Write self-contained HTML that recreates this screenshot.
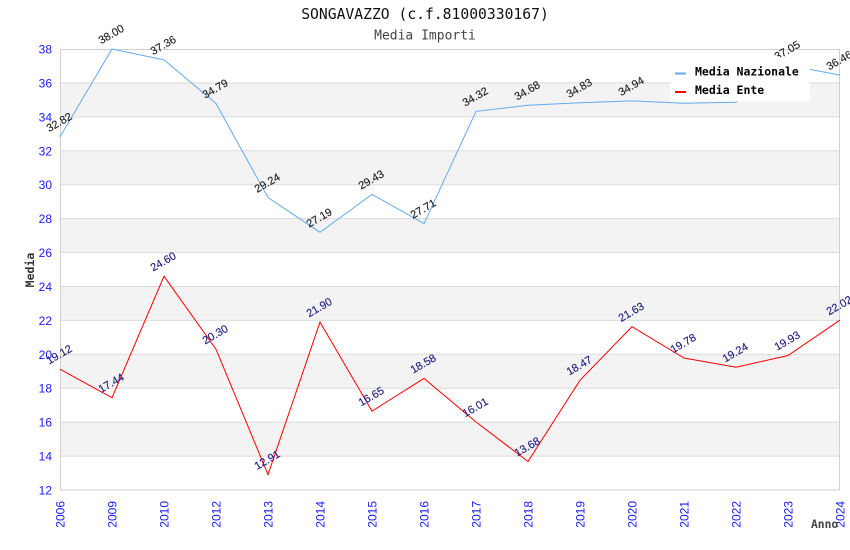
<!DOCTYPE html>
<html><head><meta charset="utf-8"><style>
html,body{margin:0;padding:0;background:#fff;}
svg{display:block;}
</style></head><body>
<svg width="850" height="550" viewBox="0 0 850 550" xmlns="http://www.w3.org/2000/svg">
<rect x="0" y="0" width="850" height="550" fill="#fff"/>
<text x="425" y="19" text-anchor="middle" font-family="DejaVu Sans Mono, Liberation Mono, monospace" font-size="14.7" fill="#111">SONGAVAZZO (c.f.81000330167)</text>
<text x="425" y="39.5" text-anchor="middle" font-family="DejaVu Sans Mono, Liberation Mono, monospace" font-size="13" fill="#444">Media Importi</text>
<!-- bands -->
<g fill="#f3f3f3">
<rect x="60" y="82.92" width="780" height="33.93"/>
<rect x="60" y="150.77" width="780" height="33.92"/>
<rect x="60" y="218.62" width="780" height="33.92"/>
<rect x="60" y="286.46" width="780" height="33.92"/>
<rect x="60" y="354.31" width="780" height="33.92"/>
<rect x="60" y="422.15" width="780" height="33.93"/>
</g>
<g stroke="#dcdcdc" stroke-width="1">
<line x1="60" y1="82.92" x2="840" y2="82.92"/>
<line x1="60" y1="116.85" x2="840" y2="116.85"/>
<line x1="60" y1="150.77" x2="840" y2="150.77"/>
<line x1="60" y1="184.69" x2="840" y2="184.69"/>
<line x1="60" y1="218.62" x2="840" y2="218.62"/>
<line x1="60" y1="252.54" x2="840" y2="252.54"/>
<line x1="60" y1="286.46" x2="840" y2="286.46"/>
<line x1="60" y1="320.38" x2="840" y2="320.38"/>
<line x1="60" y1="354.31" x2="840" y2="354.31"/>
<line x1="60" y1="388.23" x2="840" y2="388.23"/>
<line x1="60" y1="422.15" x2="840" y2="422.15"/>
<line x1="60" y1="456.08" x2="840" y2="456.08"/>
</g>
<rect x="60.5" y="49.5" width="779" height="440.5" fill="none" stroke="#d0d0d0" stroke-width="1"/>
<!-- y tick labels -->
<g font-family="Liberation Sans, DejaVu Sans, sans-serif" font-size="12" fill="#1a1aff" text-anchor="end">
<text x="52" y="53.5">38</text>
<text x="52" y="87.4">36</text>
<text x="52" y="121.3">34</text>
<text x="52" y="155.3">32</text>
<text x="52" y="189.2">30</text>
<text x="52" y="223.1">28</text>
<text x="52" y="257">26</text>
<text x="52" y="291">24</text>
<text x="52" y="324.9">22</text>
<text x="52" y="358.8">20</text>
<text x="52" y="392.7">18</text>
<text x="52" y="426.6">16</text>
<text x="52" y="460.6">14</text>
<text x="52" y="494.5">12</text>
</g>
<!-- x tick labels -->
<g font-family="Liberation Sans, DejaVu Sans, sans-serif" font-size="12" fill="#1a1aff" text-anchor="end">
<text transform="translate(64.5,501) rotate(-90)">2006</text>
<text transform="translate(116.5,501) rotate(-90)">2009</text>
<text transform="translate(168.5,501) rotate(-90)">2010</text>
<text transform="translate(220.5,501) rotate(-90)">2012</text>
<text transform="translate(272.5,501) rotate(-90)">2013</text>
<text transform="translate(324.5,501) rotate(-90)">2014</text>
<text transform="translate(376.5,501) rotate(-90)">2015</text>
<text transform="translate(428.5,501) rotate(-90)">2016</text>
<text transform="translate(480.5,501) rotate(-90)">2017</text>
<text transform="translate(532.5,501) rotate(-90)">2018</text>
<text transform="translate(584.5,501) rotate(-90)">2019</text>
<text transform="translate(636.5,501) rotate(-90)">2020</text>
<text transform="translate(688.5,501) rotate(-90)">2021</text>
<text transform="translate(740.5,501) rotate(-90)">2022</text>
<text transform="translate(792.5,501) rotate(-90)">2023</text>
<text transform="translate(844.5,501) rotate(-90)">2024</text>
</g>
<text transform="translate(34,270) rotate(-90)" text-anchor="middle" font-family="DejaVu Sans Mono, Liberation Mono, monospace" font-size="11.5" font-weight="bold" fill="#333">Media</text>
<text x="811" y="528" font-family="DejaVu Sans Mono, Liberation Mono, monospace" font-size="11.3" font-weight="bold" fill="#444">Anno</text>
<!-- series -->
<polyline fill="none" stroke="#66aaee" stroke-width="1" points="60,136.86 112,49 164,59.86 216,103.45 268,197.58 320,232.35 372,194.36 424,223.53 476,111.42 528,105.31 580,102.77 632,100.9 684,103.28 736,102.26 788,65.11 840,75.12"/>
<polyline fill="none" stroke="#ff0000" stroke-width="1" points="60,369.23 112,397.73 164,276.28 216,349.22 268,474.56 320,322.08 372,411.13 424,378.39 476,421.98 528,461.5 580,380.26 632,326.66 684,358.04 736,367.2 788,355.49 840,320.05"/>
<!-- blue labels -->
<g font-family="Liberation Sans, DejaVu Sans, sans-serif" font-size="11" fill="#222" text-anchor="middle" stroke="#222" stroke-width="0.15">
<text transform="translate(61,125.4) rotate(-30)">32.82</text>
<text transform="translate(113,37.5) rotate(-30)">38.00</text>
<text transform="translate(165,48.4) rotate(-30)">37.36</text>
<text transform="translate(217,92) rotate(-30)">34.79</text>
<text transform="translate(269,186.1) rotate(-30)">29.24</text>
<text transform="translate(321,220.9) rotate(-30)">27.19</text>
<text transform="translate(373,182.9) rotate(-30)">29.43</text>
<text transform="translate(425,212) rotate(-30)">27.71</text>
<text transform="translate(477,99.9) rotate(-30)">34.32</text>
<text transform="translate(529,93.8) rotate(-30)">34.68</text>
<text transform="translate(581,91.3) rotate(-30)">34.83</text>
<text transform="translate(633,89.4) rotate(-30)">34.94</text>
<text transform="translate(789,53.6) rotate(-30)">37.05</text>
<text transform="translate(841,63.6) rotate(-30)">36.46</text>
</g>
<!-- red labels -->
<g font-family="Liberation Sans, DejaVu Sans, sans-serif" font-size="11" fill="#202080" text-anchor="middle" stroke="#202080" stroke-width="0.15">
<text transform="translate(61,357.7) rotate(-30)">19.12</text>
<text transform="translate(113,386.2) rotate(-30)">17.44</text>
<text transform="translate(165,264.8) rotate(-30)">24.60</text>
<text transform="translate(217,337.7) rotate(-30)">20.30</text>
<text transform="translate(269,463.1) rotate(-30)">12.91</text>
<text transform="translate(321,310.6) rotate(-30)">21.90</text>
<text transform="translate(373,399.6) rotate(-30)">16.65</text>
<text transform="translate(425,366.9) rotate(-30)">18.58</text>
<text transform="translate(477,410.5) rotate(-30)">16.01</text>
<text transform="translate(529,450) rotate(-30)">13.68</text>
<text transform="translate(581,368.8) rotate(-30)">18.47</text>
<text transform="translate(633,315.2) rotate(-30)">21.63</text>
<text transform="translate(685,346.5) rotate(-30)">19.78</text>
<text transform="translate(737,355.7) rotate(-30)">19.24</text>
<text transform="translate(789,344) rotate(-30)">19.93</text>
<text transform="translate(841,308.6) rotate(-30)">22.02</text>
</g>
<!-- legend -->
<rect x="670" y="57" width="140" height="44.5" fill="#fff"/>
<rect x="675" y="72.5" width="11" height="2" fill="#66aaee"/>
<rect x="675" y="91" width="11" height="2" fill="#ff0000"/>
<g font-family="DejaVu Sans Mono, Liberation Mono, monospace" font-size="11.5" font-weight="bold" fill="#000">
<text x="695" y="75.5">Media Nazionale</text>
<text x="695" y="94">Media Ente</text>
</g>
</svg>
</body></html>
